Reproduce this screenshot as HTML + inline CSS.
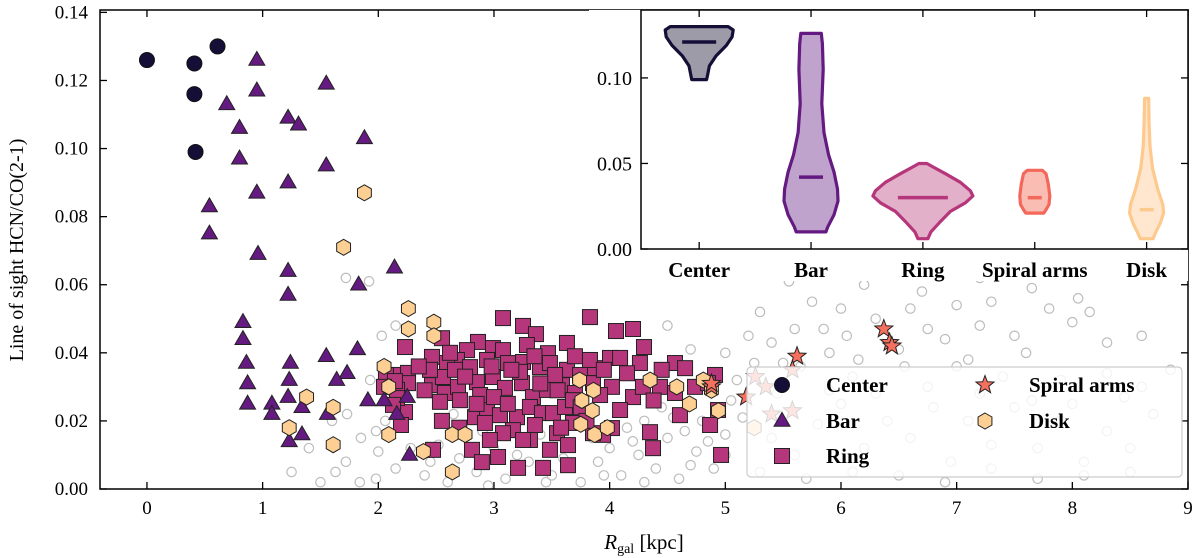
<!DOCTYPE html>
<html><head><meta charset="utf-8"><style>
html,body{margin:0;padding:0;background:#fff}
svg{display:block;font-family:"Liberation Serif",serif}
</style></head><body>
<svg id="chart" width="1200" height="558" viewBox="0 0 1200 558" xmlns="http://www.w3.org/2000/svg">
<g id="main"></g>
</svg>
<script>
// ---- data ----
const centerX=[0,0.41,0.41,0.61,0.42];
const centerY=[0.126,0.125,0.116,0.130,0.099];
const barPts=[[0.95,0.126],[0.95,0.117],[0.69,0.113],[1.55,0.119],[1.22,0.109],[1.31,0.107],[0.8,0.106],[0.8,0.097],[1.88,0.103],[1.55,0.095],[1.22,0.090],[0.95,0.087],[0.54,0.083],[0.54,0.075],[0.96,0.069],[1.22,0.064],[1.22,0.057],[1.83,0.060],[2.14,0.065],[0.83,0.049],[0.83,0.044],[0.86,0.037],[0.87,0.031],[0.87,0.025],[1.08,0.025],[1.08,0.022],[1.24,0.037],[1.23,0.032],[1.22,0.027],[1.34,0.024],[1.23,0.014],[1.34,0.016],[1.55,0.039],[1.73,0.034],[1.64,0.032],[1.56,0.022],[1.91,0.026],[1.82,0.041],[2.05,0.026],[2.27,0.010],[2.16,0.022],[2.25,0.027]];
const ringPts=[[3.078,0.0502],[3.830,0.0505],[3.251,0.0479],[3.363,0.0455],[4.055,0.0464],[4.202,0.0470],[3.631,0.0429],[4.297,0.0417],[2.231,0.0417],[2.551,0.0443],[2.464,0.0388],[2.862,0.0432],[2.991,0.0414],[3.285,0.0423],[3.467,0.0399],[3.078,0.0408],[2.767,0.0408],[2.680,0.0379],[2.594,0.0370],[2.793,0.0358],[2.940,0.0379],[3.121,0.0370],[3.251,0.0373],[3.398,0.0358],[3.484,0.0370],[3.631,0.0350],[3.744,0.0335],[3.873,0.0355],[3.830,0.0379],[4.003,0.0385],[4.090,0.0385],[4.262,0.0370],[4.565,0.0370],[4.652,0.0355],[4.911,0.0335],[2.127,0.0335],[2.257,0.0341],[2.257,0.0311],[2.464,0.0305],[2.576,0.0282],[2.689,0.0300],[2.853,0.0314],[2.991,0.0329],[3.095,0.0297],[3.242,0.0311],[3.337,0.0270],[3.458,0.0291],[3.588,0.0305],[3.700,0.0282],[3.856,0.0311],[4.020,0.0300],[4.202,0.0270],[4.288,0.0300],[4.435,0.0300],[4.565,0.0282],[4.738,0.0300],[4.850,0.0311],[2.162,0.0291],[2.231,0.0226],[2.836,0.0211],[2.940,0.0232],[3.052,0.0217],[3.199,0.0211],[3.311,0.0241],[3.415,0.0223],[3.510,0.0223],[3.614,0.0241],[3.683,0.0261],[4.608,0.0217],[4.868,0.0188],[4.349,0.0167],[4.020,0.0179],[3.943,0.0159],[3.545,0.0164],[3.640,0.0129],[3.484,0.0115],[3.311,0.0144],[3.164,0.0173],[3.078,0.0164],[2.810,0.0115],[3.035,0.0094],[2.896,0.0079],[2.473,0.0115],[3.208,0.0062],[3.424,0.0062],[3.640,0.0070],[4.375,0.0120],[4.963,0.0100],[3.251,0.0144],[3.683,0.0194],[3.856,0.0164],[2.922,0.0194],[2.706,0.0261],[2.559,0.0329],[2.447,0.0350],[2.533,0.0256],[2.066,0.0335],[2.144,0.0317],[2.049,0.0300],[2.162,0.0267],[2.127,0.0247],[2.196,0.0188],[4.937,0.0232],[2.663,0.0350],[3.225,0.0344],[3.528,0.0335],[3.917,0.0276],[4.090,0.0232],[2.880,0.0276],[3.354,0.0188],[2.965,0.0144],[2.75,0.0330],[3.15,0.0350],[3.55,0.0290],[3.75,0.0240],[2.62,0.0400],[3.40,0.0310],[3.00,0.0270],[4.15,0.0340],[4.45,0.0350],[3.80,0.0200],[2.40,0.0290],[2.35,0.0360],[2.70,0.0180],[3.12,0.0250],[3.58,0.0180],[2.98,0.0360],[3.35,0.0390],[2.85,0.0250],[3.70,0.0390],[4.38,0.0260],[2.55,0.0200],[3.95,0.0350]];
const spiralPts=[[4.88,0.030],[4.88,0.031],[5.26,0.033],[5.62,0.039],[6.37,0.047],[6.42,0.043],[6.44,0.042],[5.35,0.030],[5.40,0.022],[5.58,0.023],[5.58,0.035],[5.18,0.027]];
const diskPts=[[1.88,0.087],[1.70,0.071],[2.26,0.053],[2.26,0.047],[2.05,0.036],[1.38,0.027],[1.61,0.024],[1.23,0.018],[1.61,0.013],[2.09,0.030],[2.09,0.016],[2.48,0.049],[2.48,0.045],[2.64,0.016],[2.75,0.016],[2.64,0.005],[2.39,0.011],[3.74,0.032],[3.86,0.029],[3.76,0.026],[3.85,0.023],[3.87,0.016],[3.98,0.018],[3.75,0.019],[4.35,0.032],[4.58,0.030],[4.69,0.025],[4.81,0.032],[4.94,0.023],[4.88,0.029],[5.25,0.018]];
const grayPts=[[1.72,0.062],[1.92,0.061],[2.15,0.048],[2.03,0.045],[1.93,0.032],[2.2,0.021],[2.06,0.020],[1.98,0.017],[2.0,0.011],[2.15,0.006],[2.28,0.012],[2.4,0.004],[2.6,0.002],[1.85,0.015],[1.72,0.008],[1.6,0.020],[1.63,0.005],[1.84,0.002],[1.98,0.003],[1.5,0.002],[1.25,0.005],[1.4,0.012],[1.73,0.022],[2.52,0.013],[2.7,0.009],[2.85,0.005],[3.0,0.012],[3.1,0.003],[3.3,0.008],[3.5,0.004],[3.6,0.009],[3.75,0.002],[3.9,0.008],[4.0,0.012],[4.1,0.004],[4.25,0.010],[4.4,0.006],[4.5,0.015],[4.6,0.003],[4.75,0.011],[4.9,0.006],[4.45,0.024],[4.3,0.020],[4.55,0.021],[4.65,0.017],[4.8,0.020],[5.0,0.016],[5.05,0.026],[5.1,0.032],[5.0,0.040],[5.2,0.045],[4.5,0.048],[4.7,0.041],[5.3,0.052],[5.4,0.043],[5.5,0.037],[5.6,0.047],[5.75,0.055],[5.85,0.047],[5.9,0.040],[6.0,0.053],[6.05,0.045],[6.15,0.038],[6.3,0.050],[6.5,0.041],[6.6,0.053],[6.75,0.047],[6.9,0.044],[7.0,0.054],[7.1,0.038],[7.2,0.048],[7.3,0.055],[7.5,0.045],[7.6,0.040],[7.8,0.053],[8.0,0.049],[8.15,0.052],[8.3,0.043],[8.6,0.045],[5.25,0.037],[5.65,0.036],[6.1,0.033],[6.55,0.036],[7.0,0.036],[7.4,0.033],[7.9,0.032],[8.3,0.034],[8.6,0.030],[8.85,0.035],[5.15,0.021],[5.4,0.015],[5.6,0.010],[5.8,0.019],[6.0,0.025],[6.2,0.012],[6.4,0.020],[6.6,0.015],[6.8,0.024],[6.95,0.008],[7.1,0.020],[7.3,0.013],[7.5,0.024],[7.7,0.012],[7.9,0.020],[8.1,0.008],[8.3,0.017],[8.5,0.012],[8.7,0.022],[5.3,0.005],[5.7,0.003],[6.1,0.005],[6.5,0.004],[6.9,0.002],[7.3,0.006],[7.7,0.003],[8.1,0.004],[8.5,0.005],[5.45,0.028],[5.9,0.029],[6.3,0.028],[6.75,0.030],[7.2,0.028],[7.65,0.026],[8.0,0.025],[8.45,0.027],[5.0,0.010],[4.2,0.014],[3.85,0.015],[3.4,0.016],[2.9,0.017],[2.65,0.022],[6.7,0.058],[8.05,0.056],[7.65,0.059],[6.2,0.060],[5.55,0.061],[6.8,0.065],[7.2,0.062],[3.2,0.010],[3.45,0.002],[3.95,0.004],[4.3,0.002],[4.7,0.007],[2.45,0.008],[2.95,0.001],[4.15,0.018],[4.85,0.014]];
const xTicks=[0,1,2,3,4,5,6,7,8,9];
const yTicks=[0,0.02,0.04,0.06,0.08,0.10,0.12,0.14];
const yTickLabels=["0.00","0.02","0.04","0.06","0.08","0.10","0.12","0.14"];
// inset violins
const violinCats=["Center","Bar","Ring","Spiral arms","Disk"];
const violinMedians=[0.121,0.042,0.030,0.030,0.023];
const violinCenterProfile=[[0.130,0.85],[0.128,1.0],[0.124,0.97],[0.119,0.8],[0.113,0.5],[0.107,0.3],[0.102,0.25],[0.099,0.22]];
const violinBarProfile=[[0.126,0.38],[0.120,0.42],[0.105,0.45],[0.085,0.4],[0.068,0.48],[0.055,0.65],[0.045,0.85],[0.035,0.98],[0.028,1.0],[0.020,0.85],[0.013,0.62],[0.010,0.55]];
const violinRingProfile=[[0.050,0.08],[0.048,0.2],[0.044,0.45],[0.039,0.75],[0.034,0.95],[0.031,1.0],[0.027,0.85],[0.022,0.55],[0.016,0.35],[0.010,0.16],[0.006,0.1]];
const violinSpiralProfile=[[0.046,0.5],[0.044,0.75],[0.038,0.9],[0.031,1.0],[0.026,0.95],[0.023,0.75],[0.021,0.6]];
const violinDiskProfile=[[0.088,0.12],[0.075,0.14],[0.060,0.2],[0.047,0.35],[0.035,0.65],[0.026,0.95],[0.021,1.0],[0.015,0.8],[0.009,0.5],[0.006,0.38]];
const violinProfiles=[violinCenterProfile,violinBarProfile,violinRingProfile,violinSpiralProfile,violinDiskProfile];
const insetTicks=[0,0.05,0.10];
const insetTickLabels=["0.00","0.05","0.10"];

// ---- rendering ----
const NS="http://www.w3.org/2000/svg";
const root=document.getElementById('main');
function el(tag,attrs,parent){const e=document.createElementNS(NS,tag);for(const k in attrs)e.setAttribute(k,attrs[k]);(parent||root).appendChild(e);return e;}
const L=100,R=1188,T=10,B=489;
const xMin=-0.406,xMax=9.0,yMin=0,yMax=0.1407;
const sx=v=>L+(v-xMin)/(xMax-xMin)*(R-L);
const sy=v=>B-(v-yMin)/(yMax-yMin)*(B-T);
const C_CENTER="#150e37",C_BAR="#641a80",C_RING="#b5367a",C_SPIRAL="#f5705f",C_DISK="#fecf92";

function circle(cx,cy,r,fill,stroke,sw,g){return el('circle',{cx,cy,r,fill,stroke,'stroke-width':sw},g);}
function triPath(cx,cy,s){const h=s*0.866;return `M${cx},${cy-h*0.62}L${cx+s/2},${cy+h*0.38}L${cx-s/2},${cy+h*0.38}Z`;}
function hexPath(cx,cy,r){let d='';for(let i=0;i<6;i++){const a=Math.PI/180*(60*i-90);d+=(i?'L':'M')+(cx+r*Math.cos(a)).toFixed(2)+','+(cy+r*Math.sin(a)).toFixed(2);}return d+'Z';}
function starPath(cx,cy,r){let d='';for(let i=0;i<10;i++){const rr=i%2?r*0.42:r;const a=Math.PI/180*(36*i-90);d+=(i?'L':'M')+(cx+rr*Math.cos(a)).toFixed(2)+','+(cy+rr*Math.sin(a)).toFixed(2);}return d+'Z';}

const defs=el('defs',{});
const cp=el('clipPath',{id:'plotclip'},defs);el('rect',{x:L,y:T,width:R-L,height:B-T},cp);
const pts=el('g',{'clip-path':'url(#plotclip)'});



grayPts.forEach(p=>{const c=circle(sx(p[0]),sy(p[1]),4.7,'none','#bdbdbd',1.2,pts);

});
ringPts.forEach(p=>{const c=el('rect',{x:sx(p[0])-7.5,y:sy(p[1])-7.5,width:15,height:15,fill:C_RING,stroke:'#222','stroke-width':1},pts);

});
barPts.forEach(p=>{const c=el('path',{d:triPath(sx(p[0]),sy(p[1]),16),fill:C_BAR,stroke:'#222','stroke-width':1},pts);

});
diskPts.forEach(p=>{const c=el('path',{d:hexPath(sx(p[0]),sy(p[1]),8),fill:C_DISK,stroke:'#222','stroke-width':1},pts);

});
spiralPts.forEach(p=>{const c=el('path',{d:starPath(sx(p[0]),sy(p[1]),9.5),fill:C_SPIRAL,stroke:'#222','stroke-width':1},pts);

});
centerX.forEach((x,i)=>{const c=circle(sx(x),sy(centerY[i]),7.5,C_CENTER,'#111',1,pts);

});

const ax=el('g',{});


xTicks.forEach(t=>{const x=sx(t);
el('line',{x1:x,x2:x,y1:B,y2:B-7,stroke:'#000','stroke-width':1.3},ax);
el('line',{x1:x,x2:x,y1:T,y2:T+7,stroke:'#000','stroke-width':1.3},ax);
const tx=el('text',{x:x,y:B+25,'font-size':19,'text-anchor':'middle'},ax);tx.textContent=t;

});
yTicks.forEach((t,i)=>{const y=sy(t);
el('line',{x1:L,x2:L+7,y1:y,y2:y,stroke:'#000','stroke-width':1.3},ax);
el('line',{x1:R,x2:R-7,y1:y,y2:y,stroke:'#000','stroke-width':1.3},ax);
const tx=el('text',{x:L-12,y:y+6,'font-size':19,'text-anchor':'end'},ax);tx.textContent=yTickLabels[i];

});
el('rect',{x:L,y:T,width:R-L,height:B-T,fill:'none',stroke:'#000','stroke-width':1.5},ax);
const xl=el('text',{x:644,y:549,'font-size':21,'text-anchor':'middle','font-style':'italic'},ax);
xl.innerHTML='R<tspan font-size="14" dy="4" font-style="normal">gal</tspan><tspan dy="-4" font-style="normal"> [kpc]</tspan>';


const yl=el('text',{x:0,y:0,'font-size':20,'text-anchor':'middle',transform:'translate(23,250) rotate(-90)'},ax);
yl.textContent='Line of sight HCN/CO(2-1)';



const lg=el('g',{});


el('rect',{x:747,y:367,width:435,height:110,rx:4,fill:'rgba(255,255,255,0.82)',stroke:'#ccc','stroke-width':1.2},lg);
const legItems=[['Center',782,385,'c'],['Bar',782,421,'t'],['Ring',782,456,'s'],['Spiral arms',985,385,'st'],['Disk',985,421,'h']];
legItems.forEach(it=>{const [lab,x,y,k]=it;
if(k==='c')circle(x,y,7.5,C_CENTER,'#111',1,lg);
if(k==='t')el('path',{d:triPath(x,y,16),fill:C_BAR,stroke:'#222','stroke-width':1},lg);
if(k==='s')el('rect',{x:x-7.5,y:y-7.5,width:15,height:15,fill:C_RING,stroke:'#222','stroke-width':1},lg);
if(k==='st')el('path',{d:starPath(x,y,9.5),fill:C_SPIRAL,stroke:'#222','stroke-width':1},lg);
if(k==='h')el('path',{d:hexPath(x,y,8),fill:C_DISK,stroke:'#222','stroke-width':1},lg);
const tx=el('text',{x:x+44,y:y+7,'font-size':21,'font-weight':'bold'},lg);tx.textContent=lab;

});

const IL=641,IR=1188,IT=10,IB=249;
const ixMin=-0.52,ixMax=4.37,iyMax=0.1397;
const isx=v=>IL+(v-ixMin)/(ixMax-ixMin)*(IR-IL);
const isy=v=>IB-v/iyMax*(IB-IT);
const ins=el('g',{});


el('rect',{x:IL-52,y:IT,width:IR-IL+52,height:IB-IT+32,fill:'#fff'},ins);
const vStroke=[C_CENTER,"#641a80","#b5367a","#f4685c","#fec98d"];
const vFill=["#9e9ba8","#c0a3cc","#e2b0c9","#f9bdb3","#fee7ce"];
const vScale=[34,27,50,15,17];
violinProfiles.forEach((prof,i)=>{const cx=isx(i);let d='';
prof.forEach((p,j)=>{d+=(j?'L':'M')+(cx+p[1]*vScale[i]).toFixed(1)+','+isy(p[0]).toFixed(1);});
for(let j=prof.length-1;j>=0;j--){const p=prof[j];d+='L'+(cx-p[1]*vScale[i]).toFixed(1)+','+isy(p[0]).toFixed(1);}
d+='Z';
const v=el('path',{d,fill:vFill[i],stroke:vStroke[i],'stroke-width':3.2,'stroke-linejoin':'round'},ins);


const mw=[17,12,25,7,7][i];
const m=el('line',{x1:cx-mw,x2:cx+mw,y1:isy(violinMedians[i]),y2:isy(violinMedians[i]),stroke:vStroke[i],'stroke-width':3.5},ins);


el('line',{x1:cx,x2:cx,y1:IB,y2:IB-7,stroke:'#000','stroke-width':1.3},ins);
el('line',{x1:cx,x2:cx,y1:IT,y2:IT+7,stroke:'#000','stroke-width':1.3},ins);
const tx=el('text',{x:cx,y:IB+28,'font-size':21,'text-anchor':'middle','font-weight':'bold'},ins);tx.textContent=violinCats[i];

});
insetTicks.forEach((t,i)=>{const y=isy(t);
el('line',{x1:IL,x2:IL+7,y1:y,y2:y,stroke:'#000','stroke-width':1.3},ins);
el('line',{x1:IR,x2:IR-7,y1:y,y2:y,stroke:'#000','stroke-width':1.3},ins);
const tx=el('text',{x:IL-9,y:y+7,'font-size':20,'text-anchor':'end'},ins);tx.textContent=insetTickLabels[i];

});
el('rect',{x:IL,y:IT,width:IR-IL,height:IB-IT,fill:'none',stroke:'#000','stroke-width':1.5},ins);
</script>
</body></html>
